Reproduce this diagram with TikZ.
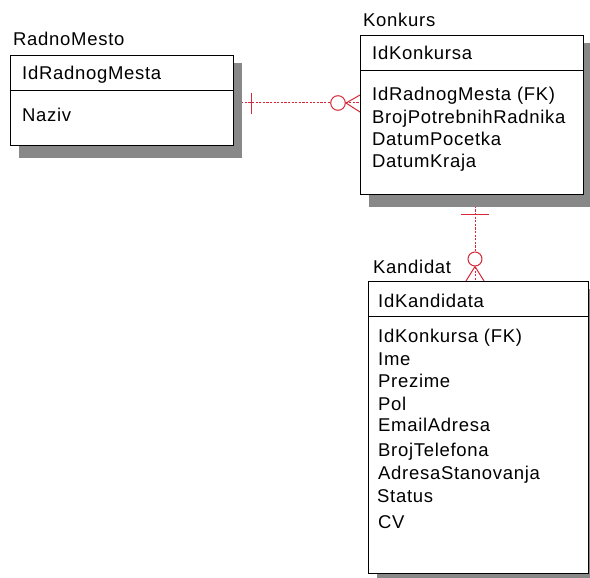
\documentclass[tikz,border=0pt]{standalone}
\usepackage{fontspec}
\setmainfont{Liberation Sans}[LetterSpace=3.8]
\usetikzlibrary{backgrounds}
\definecolor{relred}{RGB}{214,40,56}
\definecolor{shadowgray}{RGB}{136,136,136}
\begin{document}
\begin{tikzpicture}[x=1pt,y=-1pt,
  entity/.style={draw=black,line width=1pt,fill=white,rectangle,inner sep=0pt,anchor=north west},
  lbl/.style={anchor=base west,inner sep=0pt,font=\fontsize{18.5}{20}\selectfont},
  divider/.style={draw=black,line width=1pt},
  shadowfill/.style={fill=shadowgray},
  rel/.style={draw=relred,dash pattern=on 2.2pt off 1.4pt,line width=1pt},
  relmark/.style={draw=relred,line width=1pt},
]
\useasboundingbox (0,0) rectangle (590,578);

% entity boxes
\node[entity,minimum width=223pt,minimum height=90pt] (rm) at (10,55) {};
\node[entity,minimum width=223pt,minimum height=159pt] (ko) at (360,35) {};
\node[entity,minimum width=220pt,minimum height=292pt] (ka) at (368,281) {};

% key / attribute dividers
\draw[divider] (rm.west |- 0,91) -- (rm.east |- 0,91);
\draw[divider] (ko.west |- 0,71) -- (ko.east |- 0,71);
\draw[divider] (ka.west |- 0,316) -- (ka.east |- 0,316);

% relationships and shadows behind the boxes
\begin{scope}[on background layer]
  % RadnoMesto -- Konkurs
  \draw[rel] (rm.east |- 0,103) -- (ko.west |- 0,103);
  \draw[relmark] (251,93) -- (251,114);
  \draw[relmark,fill=white] (338,103) circle (7.3pt);
  \draw[relmark] (ko.west |- 0,95) -- (346,103) -- (ko.west |- 0,112);
  % Konkurs -- Kandidat
  \draw[rel] (ko.south -| 475,0) -- (ka.north -| 475,0);
  \draw[relmark] (461,214) -- (489,214);
  \draw[relmark,fill=white] (475,259) circle (7pt);
  \draw[relmark] (ka.north -| 466,0) -- (475,266.5) -- (ka.north -| 484,0);
  % drop shadows
  \fill[shadowfill] ([xshift=9pt,yshift=-8pt]rm.north west) rectangle ([xshift=8pt,yshift=-12pt]rm.south east);
  \fill[shadowfill] ([xshift=9pt,yshift=-8pt]ko.north west) rectangle ([xshift=8pt,yshift=-12pt]ko.south east);
  \fill[shadowfill] ([xshift=9pt,yshift=-8pt]ka.north west) rectangle ([xshift=8pt,yshift=-4pt]ka.south east);
\end{scope}

% RadnoMesto
\node[lbl] (rmt) at (13,46) {RadnoMesto};
\node[lbl] (rm1) at (22,80) {IdRadnogMesta};
\node[lbl] (rm2) at (22,122) {Naziv};

% Konkurs
\node[lbl] (kot) at (363,27) {Konkurs};
\node[lbl] (ko1) at (372,60) {IdKonkursa};
\node[lbl] (ko2) at (372,101) {IdRadnogMesta (FK)};
\node[lbl] (ko3) at (372,123.3) {BrojPotrebnihRadnika};
\node[lbl] (ko4) at (372,145.6) {DatumPocetka};
\node[lbl] (ko5) at (372,167.3) {DatumKraja};

% Kandidat
\node[lbl] (kat) at (373,273.3) {Kandidat};
\node[lbl] (ka1) at (378,307) {IdKandidata};
\node[lbl] (ka2) at (378,342.7) {IdKonkursa (FK)};
\node[lbl] (ka3) at (378,365) {Ime};
\node[lbl] (ka4) at (378,387.3) {Prezime};
\node[lbl] (ka5) at (378,410) {Pol};
\node[lbl] (ka6) at (378,431.7) {EmailAdresa};
\node[lbl] (ka7) at (378,456.7) {BrojTelefona};
\node[lbl] (ka8) at (378,479.3) {AdresaStanovanja};
\node[lbl] (ka9) at (377,502.7) {Status};
\node[lbl] (ka10) at (378,528.3) {CV};
\end{tikzpicture}
\end{document}
